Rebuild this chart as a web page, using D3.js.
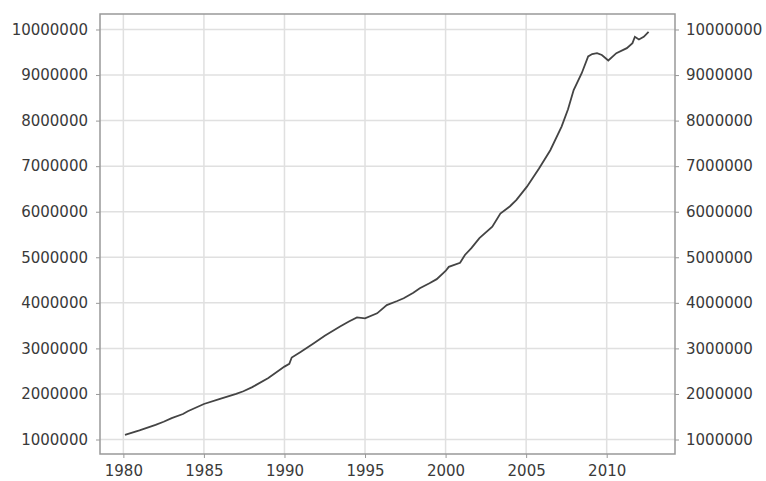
<!DOCTYPE html>
<html>
<head>
<meta charset="utf-8">
<script src="https://cdn.jsdelivr.net/npm/d3@7"></script>
<style>
  body { margin: 0; background: #fff; }
  .axis text { font-family: "DejaVu Sans", sans-serif; font-size: 15px; fill: #3a3a3a; }
  .axis line { stroke: #999; }
  .axis path { display: none; }
  .grid line { stroke: #e0e0e0; stroke-width: 1.5; }
</style>
</head>
<body>
<div class="chart"></div>
<script>
var svgWidth = 766;
var svgHeight = 481;

var margin = { top: 14, right: 91, bottom: 27, left: 100 };
var width = svgWidth - margin.left - margin.right;
var height = svgHeight - margin.top - margin.bottom;

// values (year, level)
var years = [1980.1, 1981, 1982, 1982.5, 1983, 1983.7, 1984, 1985, 1986, 1987, 1987.45, 1988, 1989,
  1990, 1990.3, 1990.45, 1991, 1991.8, 1992.5, 1993.45, 1994, 1994.5, 1995, 1995.75, 1996.35,
  1997, 1997.4, 1998, 1998.4, 1999, 1999.45, 2000, 2000.2, 2000.9, 2001.2, 2001.6, 2002.1,
  2002.9, 2003.4, 2004, 2004.4, 2005.05, 2005.8, 2006.5, 2007.2, 2007.6, 2007.95, 2008.45,
  2008.85, 2009.1, 2009.4, 2009.7, 2010.1, 2010.6, 2011.25, 2011.6, 2011.75, 2012.0, 2012.3, 2012.6];
var values = [1100000, 1200000, 1320000, 1390000, 1470000, 1560000, 1620000, 1780000, 1890000, 2000000,
  2060000, 2150000, 2350000,
  2600000, 2660000, 2800000, 2920000, 3110000, 3280000, 3480000, 3590000, 3680000, 3660000, 3770000, 3950000,
  4040000, 4100000, 4220000, 4320000, 4430000, 4520000, 4700000, 4790000, 4880000, 5050000, 5200000, 5420000,
  5670000, 5960000, 6120000, 6260000, 6550000, 6950000, 7350000, 7870000, 8250000, 8670000, 9040000,
  9410000, 9460000, 9480000, 9440000, 9320000, 9480000, 9590000, 9700000, 9840000, 9780000, 9840000, 9950000];

var xTicks = [1980, 1985, 1990, 1995, 2000, 2005, 2010];
var yTicks = [1000000, 2000000, 3000000, 4000000, 5000000, 6000000, 7000000, 8000000, 9000000, 10000000];

var data = years.map(function(y, i) { return { year: y, value: values[i] }; });

var svg = d3.select(".chart")
  .append("svg")
  .attr("width", svgWidth)
  .attr("height", svgHeight);

var chartGroup = svg.append("g")
  .attr("transform", `translate(${margin.left}, ${margin.top})`);

var xScale = d3.scaleLinear()
  .domain([1978.55, 2014.24])
  .range([0, width]);

var yScale = d3.scaleLinear()
  .domain([682000, 10340000])
  .range([height, 0]);

// grid lines
chartGroup.append("g")
  .attr("class", "grid")
  .selectAll("line.v")
  .data(xTicks)
  .enter()
  .append("line")
  .attr("x1", d => xScale(d))
  .attr("x2", d => xScale(d))
  .attr("y1", 0)
  .attr("y2", height);

chartGroup.append("g")
  .attr("class", "grid")
  .selectAll("line.h")
  .data(yTicks)
  .enter()
  .append("line")
  .attr("x1", 0)
  .attr("x2", width)
  .attr("y1", d => yScale(d))
  .attr("y2", d => yScale(d));

// axes
var leftAxis = d3.axisLeft(yScale).tickValues(yTicks).tickSize(4).tickPadding(8).tickFormat(d3.format("d"));
var rightAxis = d3.axisRight(yScale).tickValues(yTicks).tickSize(4).tickPadding(7).tickFormat(d3.format("d"));
var bottomAxis = d3.axisBottom(xScale).tickValues(xTicks).tickSize(4).tickFormat(d3.format("d"));

chartGroup.append("g").attr("class", "axis").call(leftAxis);
chartGroup.append("g").attr("class", "axis")
  .attr("transform", `translate(${width}, 0)`)
  .call(rightAxis);
var xAxis = chartGroup.append("g").attr("class", "axis")
  .attr("transform", `translate(0, ${height})`)
  .call(bottomAxis);
xAxis.selectAll("text").attr("y", 11).attr("dy", "0.71em");

// frame
chartGroup.append("rect")
  .attr("width", width)
  .attr("height", height)
  .attr("fill", "none")
  .attr("stroke", "#999")
  .attr("stroke-width", 1.5);

// line
var line = d3.line()
  .x(d => xScale(d.year))
  .y(d => yScale(d.value));

chartGroup.append("path")
  .datum(data)
  .attr("fill", "none")
  .attr("stroke", "#444")
  .attr("stroke-width", 1.8)
  .attr("d", line);
</script>
</body>
</html>
